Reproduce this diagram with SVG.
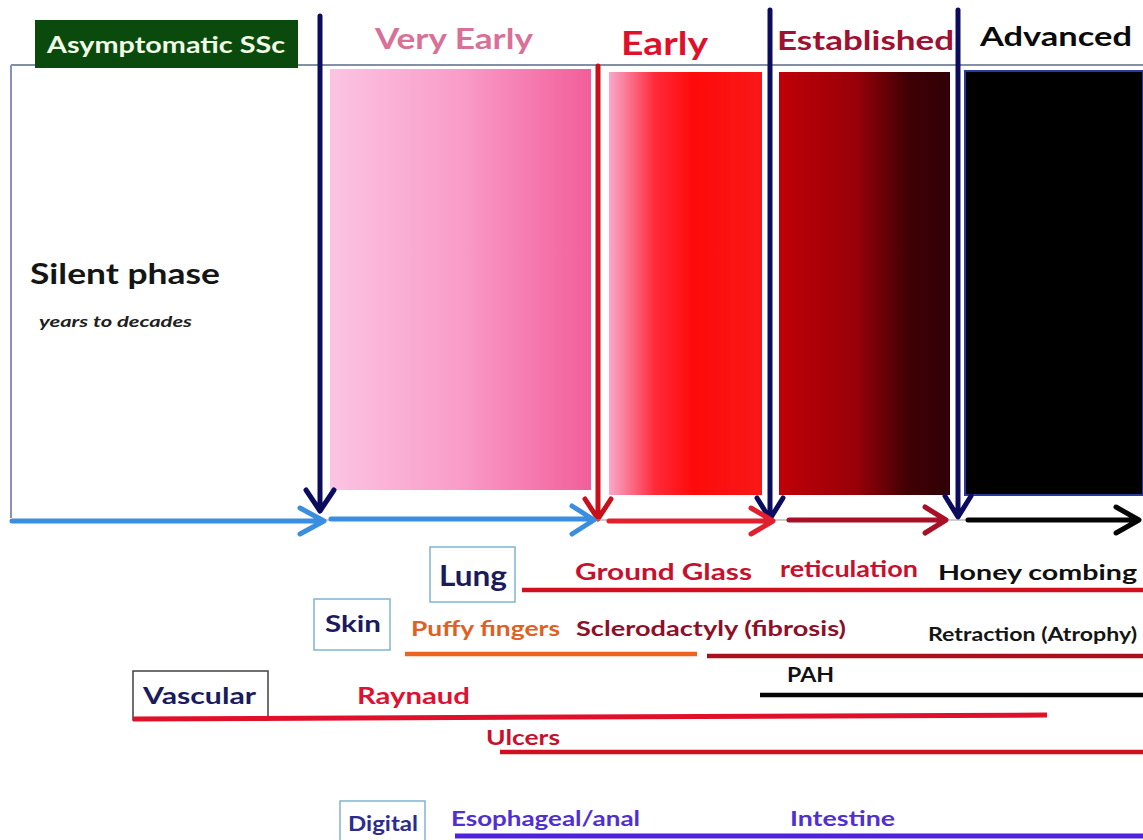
<svg xmlns="http://www.w3.org/2000/svg" width="1143" height="840" viewBox="0 0 1143 840">
<style>
text{font-family:Lato,"Open Sans","Liberation Sans",sans-serif;font-weight:bold}
.box{fill:#fff;stroke:#7fb5d5;stroke-width:1.5}
.navy{fill:#1a1a5c}
.v{stroke-width:5;fill:none;stroke-linecap:round;stroke-linejoin:round}
.bar{stroke-width:4.5;stroke-linecap:butt}
</style>
<defs>
<linearGradient id="gVE" x1="0" x2="1" y1="0" y2="0"><stop offset="0" stop-color="#fcc4e2"/><stop offset="0.5" stop-color="#f99cc8"/><stop offset="1" stop-color="#f25e9a"/></linearGradient>
<linearGradient id="gE" x1="0" x2="1" y1="0" y2="0"><stop offset="0" stop-color="#f8a8cc"/><stop offset="0.3" stop-color="#ff2a3a"/><stop offset="0.55" stop-color="#ff0a0a"/><stop offset="1" stop-color="#f81818"/></linearGradient>
<linearGradient id="gS" x1="0" x2="1" y1="0" y2="0"><stop offset="0" stop-color="#c00008"/><stop offset="0.45" stop-color="#980008"/><stop offset="0.75" stop-color="#400004"/><stop offset="1" stop-color="#300006"/></linearGradient>
</defs>
<rect width="1143" height="840" fill="#fff"/>
<g id="frame">
<line x1="11" y1="65" x2="1143" y2="65" stroke="#5a6a8a" stroke-width="1.5"/>
<line x1="11" y1="65" x2="11" y2="518" stroke="#8a90b8" stroke-width="2"/>
</g>
<g id="phase-very-early"><rect x="330" y="69" width="261" height="421" fill="url(#gVE)"/></g>
<g id="phase-early"><rect x="609" y="72" width="153" height="423" fill="url(#gE)"/></g>
<g id="phase-established"><rect x="779" y="72" width="171" height="423" fill="url(#gS)"/></g>
<g id="phase-advanced"><rect x="965" y="71" width="178" height="424" fill="#000" stroke="#2a3a9a" stroke-width="2"/></g>
<g id="asymptomatic"><rect x="35" y="20" width="263" height="48" fill="#0a4a0c"/><text x="166" y="53" font-size="23" fill="#f2fbe8" text-anchor="middle" textLength="238" lengthAdjust="spacingAndGlyphs">Asymptomatic SSc</text></g>
<g id="labels">
<text x="375" y="49" font-size="28" fill="#d87098" textLength="158" lengthAdjust="spacingAndGlyphs">Very Early</text>
<text x="621" y="55" font-size="33" fill="#e0102a" textLength="87" lengthAdjust="spacingAndGlyphs">Early</text>
<text x="777" y="50" font-size="27" fill="#a01030" textLength="177" lengthAdjust="spacingAndGlyphs">Established</text>
<text x="980" y="46" font-size="27" fill="#0a0a0a" textLength="152" lengthAdjust="spacingAndGlyphs">Advanced</text>
</g>
<g id="silent">
<text x="30" y="284" font-size="28" fill="#151515" textLength="190" lengthAdjust="spacingAndGlyphs">Silent phase</text>
<text x="39" y="327" font-size="15" font-style="italic" fill="#202020" textLength="153" lengthAdjust="spacingAndGlyphs">years to decades</text>
</g>
<g id="connectors">
<g stroke="#0c0c5e">
<path class="v" d="M320 16 V510 M306 490 L320 511 L334 490"/>
<path class="v" d="M770 10 V518 M757 498 L770 519 L783 498"/>
<path class="v" d="M958 10 V516 M945 496 L958 517 L971 496"/>
</g>
<path class="v" stroke="#c8101a" d="M598 66 V518 M585 499 L598 519 L611 499"/>
<line x1="11" y1="520" x2="1140" y2="520" stroke="#9a9a9a" stroke-width="1"/>
<path class="v" stroke="#3a8ee0" d="M12 521 H323 M300 508 L324 521 L300 534"/>
<path class="v" stroke="#3a8ee0" d="M331 519 H593 M572 506 L594 520 L572 534"/>
<path class="v" stroke="#e0202c" d="M609 521 H772 M751 508 L773 521 L751 534"/>
<path class="v" stroke="#a81028" d="M789 520 H944 M925 507 L946 520 L925 533"/>
<path class="v" stroke="#050505" d="M968 520 H1138 M1116 507 L1139 520 L1116 533"/>
</g>
<g id="lung">
<rect class="box" x="430" y="547" width="85" height="55"/>
<text x="439" y="586" font-size="28" class="navy" textLength="68" lengthAdjust="spacingAndGlyphs">Lung</text>
<text x="575" y="580" font-size="23" fill="#c8102c" textLength="177" lengthAdjust="spacingAndGlyphs">Ground Glass</text>
<text x="780" y="577" font-size="22" fill="#c8102c" textLength="138" lengthAdjust="spacingAndGlyphs">reticulation</text>
<text x="938" y="580" font-size="21" fill="#101010" textLength="199" lengthAdjust="spacingAndGlyphs">Honey combing</text>
<line class="bar" x1="522" y1="590" x2="1143" y2="590" stroke="#d0101e"/>
</g>
<g id="skin">
<rect class="box" x="314" y="599" width="76" height="51"/>
<text x="325" y="632" font-size="23" class="navy" textLength="56" lengthAdjust="spacingAndGlyphs">Skin</text>
<text x="411" y="636" font-size="20" fill="#e06024" textLength="149" lengthAdjust="spacingAndGlyphs">Puffy fingers</text>
<text x="576" y="636" font-size="20" fill="#8e1028" textLength="270" lengthAdjust="spacingAndGlyphs">Sclerodactyly (fibrosis)</text>
<text x="928" y="641" font-size="18" fill="#151515" textLength="209" lengthAdjust="spacingAndGlyphs">Retraction (Atrophy)</text>
<line class="bar" x1="405" y1="654" x2="697" y2="654" stroke="#ec6420"/>
<line class="bar" x1="707" y1="656" x2="1143" y2="656" stroke="#a8101e"/>
</g>
<g id="pah">
<text x="787" y="682" font-size="20" fill="#111" textLength="47" lengthAdjust="spacingAndGlyphs">PAH</text>
<line class="bar" x1="760" y1="695" x2="1143" y2="695" stroke="#050505"/>
</g>
<g id="vascular">
<rect x="133" y="671" width="135" height="49" fill="#fff" stroke="#404040" stroke-width="1.5"/>
<text x="143" y="704" font-size="23" class="navy" textLength="113" lengthAdjust="spacingAndGlyphs">Vascular</text>
<text x="357" y="704" font-size="23" fill="#e01030" textLength="113" lengthAdjust="spacingAndGlyphs">Raynaud</text>
<line x1="133" y1="719" x2="1047" y2="715" stroke="#e0102a" stroke-width="5"/>
<text x="486" y="745" font-size="21" fill="#c8102c" textLength="74" lengthAdjust="spacingAndGlyphs">Ulcers</text>
<line class="bar" x1="500" y1="752" x2="1143" y2="752" stroke="#d0101e"/>
</g>
<g id="digital">
<rect class="box" x="340" y="801" width="85" height="42"/>
<text x="348" y="831" font-size="21" fill="#2c2c8e" textLength="70" lengthAdjust="spacingAndGlyphs">Digital</text>
<text x="451" y="826" font-size="21" fill="#5030d0" textLength="189" lengthAdjust="spacingAndGlyphs">Esophageal/anal</text>
<text x="790" y="826" font-size="21" fill="#5030d0" textLength="105" lengthAdjust="spacingAndGlyphs">Intestine</text>
<line x1="455" y1="836" x2="1143" y2="836" stroke="#5020e0" stroke-width="5"/>
</g>
</svg>
